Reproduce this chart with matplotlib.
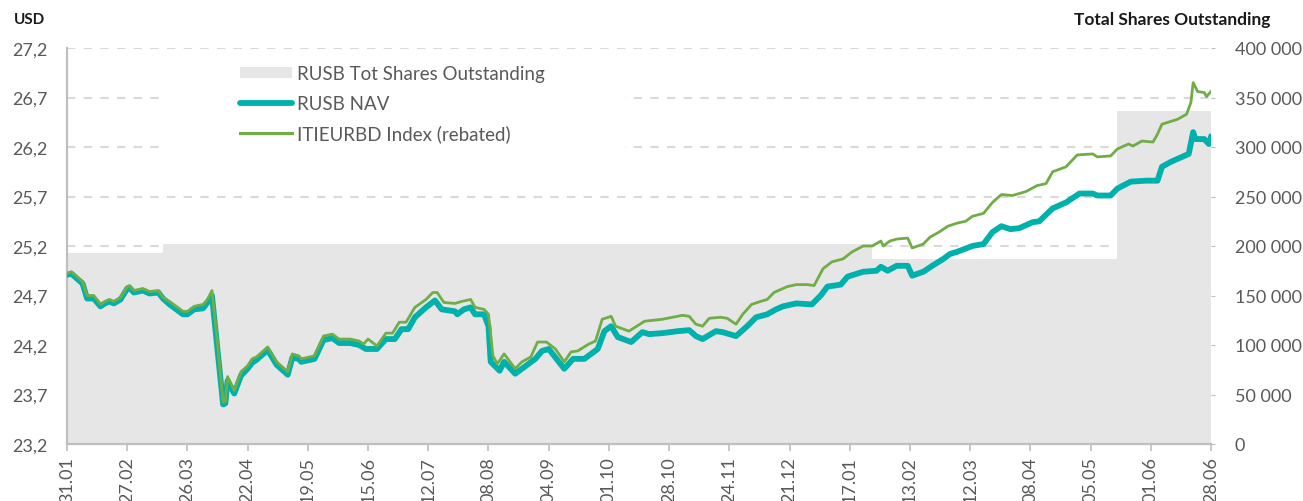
import matplotlib
matplotlib.use("Agg")
import matplotlib.pyplot as plt
from matplotlib.patches import Patch, Rectangle
from matplotlib.lines import Line2D
from matplotlib.ticker import FuncFormatter

plt.rcParams['font.family'] = ['Lato', 'DejaVu Sans']

# x axis: days since 31.01, labels every 27 days
tick_labels = ['31.01', '27.02', '26.03', '22.04', '19.05', '15.06', '12.07', '08.08',
               '04.09', '01.10', '28.10', '24.11', '21.12', '17.01', '13.02', '12.03',
               '08.04', '05.05', '01.06', '28.06']
tick_step = 27

# RUSB total shares outstanding (step series)
share_days = [0, 43, 361, 471, 513]
shares = [193000, 202000, 187000, 336000, 336000]

# ITIEURBD Index (rebated)
idx_days = [0, 2, 7, 9, 12, 15, 17, 19, 21, 24, 27, 28, 30, 34, 37, 41, 43, 46, 49, 52,
            54, 57, 61, 63, 65, 67, 70, 71, 72, 75, 78, 81, 83, 85, 90, 94, 99, 101, 104, 105,
            111, 115, 119, 122, 127, 131, 133, 135, 139, 143, 146, 149, 152, 156, 161, 164,
            166, 169, 174, 177, 181, 183, 187, 189, 191, 193, 196, 201, 204, 208, 211, 215,
            219, 223, 226, 229, 234, 237, 240, 244, 246, 252, 259, 267, 276, 279, 282, 285,
            288, 293, 296, 300, 303, 307, 311, 314, 317, 323, 327, 332, 335, 339, 343, 348,
            352, 357, 361, 365, 366, 369, 372, 377, 379, 384, 387, 391, 395, 399, 403, 406,
            411, 415, 419, 424, 430, 435, 439, 442, 448, 453, 460, 462, 468, 471, 476, 478,
            482, 487, 489, 491, 498, 502, 504, 505, 507, 510, 511, 513]
idx_vals = [24.92, 24.94, 24.84, 24.70, 24.70, 24.61, 24.64, 24.66, 24.64, 24.68, 24.79, 24.80,
            24.75, 24.77, 24.74, 24.75, 24.68, 24.64, 24.59, 24.54, 24.54, 24.59, 24.61, 24.66,
            24.75, 24.33, 23.62, 23.63, 23.88, 23.74, 23.93, 23.99, 24.06, 24.08, 24.18, 24.03,
            23.93, 24.11, 24.09, 24.06, 24.09, 24.29, 24.31, 24.26, 24.26, 24.24, 24.21, 24.26,
            24.19, 24.32, 24.32, 24.43, 24.43, 24.58, 24.66, 24.73, 24.73, 24.63, 24.62, 24.64,
            24.66, 24.58, 24.56, 24.51, 24.09, 24.01, 24.11, 23.96, 24.03, 24.08, 24.23, 24.23,
            24.16, 24.03, 24.13, 24.14, 24.21, 24.24, 24.46, 24.49, 24.39, 24.34, 24.44, 24.46,
            24.50, 24.49, 24.41, 24.39, 24.47, 24.48, 24.47, 24.41, 24.51, 24.61, 24.64, 24.66,
            24.73, 24.79, 24.81, 24.81, 24.80, 24.97, 25.04, 25.07, 25.14, 25.20, 25.20, 25.25,
            25.20, 25.25, 25.27, 25.28, 25.18, 25.22, 25.29, 25.34, 25.40, 25.43, 25.45, 25.50,
            25.53, 25.64, 25.72, 25.71, 25.75, 25.81, 25.83, 25.95, 26.00, 26.12, 26.13, 26.10,
            26.11, 26.18, 26.23, 26.21, 26.26, 26.25, 26.33, 26.43, 26.48, 26.53, 26.65, 26.85,
            26.76, 26.75, 26.71, 26.76]

# RUSB NAV
nav_days = [0, 2, 7, 9, 12, 15, 17, 19, 21, 24, 27, 28, 30, 34, 37, 41, 43, 46, 49, 52,
            54, 57, 61, 63, 65, 67, 70, 71, 72, 75, 78, 81, 83, 85, 90, 94, 99, 101, 104, 105,
            111, 115, 119, 122, 127, 131, 134, 139, 143, 147, 150, 153, 156, 161, 165, 168,
            174, 175, 178, 181, 183, 187, 189, 190, 194, 196, 201, 204, 210, 213, 216, 223,
            227, 232, 238, 241, 244, 247, 253, 258, 261, 267, 274, 279, 282, 285, 291, 294,
            300, 305, 309, 314, 318, 321, 327, 334, 338, 341, 347, 350, 357, 363, 365, 368,
            372, 377, 379, 384, 388, 393, 396, 399, 406, 411, 415, 419, 423, 427, 433, 436,
            442, 448, 454, 460, 462, 468, 471, 477, 484, 489, 491, 495, 499, 503, 505, 506,
            510, 512, 513]
nav_vals = [24.91, 24.92, 24.82, 24.67, 24.67, 24.59, 24.62, 24.64, 24.62, 24.66, 24.77, 24.78,
            24.73, 24.75, 24.72, 24.73, 24.67, 24.61, 24.56, 24.51, 24.51, 24.56, 24.57, 24.63,
            24.70, 24.26, 23.60, 23.61, 23.84, 23.71, 23.89, 23.96, 24.02, 24.05, 24.15, 24.00,
            23.90, 24.07, 24.06, 24.03, 24.06, 24.25, 24.27, 24.22, 24.22, 24.20, 24.16, 24.16,
            24.26, 24.26, 24.36, 24.36, 24.48, 24.58, 24.65, 24.56, 24.54, 24.51, 24.56, 24.58,
            24.51, 24.51, 24.39, 24.03, 23.94, 24.03, 23.91, 23.96, 24.06, 24.14, 24.16, 23.96,
            24.06, 24.06, 24.16, 24.34, 24.39, 24.28, 24.23, 24.33, 24.31, 24.32, 24.34, 24.35,
            24.29, 24.26, 24.34, 24.33, 24.29, 24.39, 24.48, 24.51, 24.56, 24.59, 24.62, 24.61,
            24.70, 24.79, 24.81, 24.89, 24.94, 24.95, 24.99, 24.95, 25.00, 25.00, 24.90, 24.94,
            25.00, 25.07, 25.12, 25.14, 25.20, 25.22, 25.34, 25.40, 25.37, 25.38, 25.44, 25.45,
            25.58, 25.64, 25.73, 25.73, 25.71, 25.71, 25.78, 25.85, 25.86, 25.86, 26.00, 26.05,
            26.09, 26.13, 26.35, 26.28, 26.28, 26.23, 26.30]

grey_txt = '#595959'
axis_col = '#bfbfbf'
area_col = '#e6e6e6'
nav_col = '#00b0ab'
idx_col = '#70ad47'

fig = plt.figure(figsize=(13.03, 5.02), dpi=100)
ax = fig.add_axes([67 / 1303, 57 / 502, 1144 / 1303, 396 / 502])
ax2 = ax.twinx()

# shares area on the base axes (drawn under the lines)
ax.fill_between(share_days, shares, step='post', color=area_col, lw=0, zorder=1)
ax.set_xlim(0, 513)
ax.set_ylim(0, 400000)
ax.set_yticks(range(0, 400001, 50000))
ax.yaxis.tick_right()
ax.yaxis.grid(True, ls=(0, (4, 4)), color='#d9d9d9', lw=1.5)
ax.set_axisbelow(True)
ax.yaxis.set_major_formatter(FuncFormatter(lambda v, p: f'{int(v):,}'.replace(',', ' ')))
ax.tick_params(axis='y', left=False, right=True, labelleft=False, labelright=True,
               length=3, color=axis_col, labelcolor=grey_txt, labelsize=13, pad=14)
ax.set_xticks([i * tick_step for i in range(len(tick_labels))])
ax.set_xticklabels(tick_labels, rotation=90)
ax.tick_params(axis='x', length=5, width=1.2, color=axis_col, labelcolor=grey_txt,
               labelsize=13, pad=4)
for s in ['top', 'right']:
    ax.spines[s].set_visible(False)
for s in ['left', 'bottom']:
    ax.spines[s].set_color(axis_col)
    ax.spines[s].set_linewidth(1.6)

# white box behind the legend
ax.add_patch(Rectangle((0.083, 0.72), 0.405, 0.257, transform=ax.transAxes,
                       facecolor='white', edgecolor='none', zorder=1.5))

# price lines
ax2.plot(nav_days, nav_vals, color=nav_col, lw=4.2, solid_joinstyle='round', zorder=3)
ax2.plot(idx_days, idx_vals, color=idx_col, lw=2.0, solid_joinstyle='round', zorder=4)
ax2.set_ylim(23.2, 27.2)
ax2.set_yticks([23.2 + 0.5 * i for i in range(9)])
ax2.yaxis.set_major_formatter(FuncFormatter(lambda v, p: f'{v:.1f}'.replace('.', ',')))
ax2.tick_params(axis='y', left=True, right=False, labelleft=True, labelright=False,
                length=0, labelcolor=grey_txt, labelsize=13, pad=14)
for s in ax2.spines.values():
    s.set_visible(False)

handles = [Patch(facecolor=area_col, edgecolor='none'),
           Line2D([], [], color=nav_col, lw=4.2, solid_capstyle='round'),
           Line2D([], [], color=idx_col, lw=2.2)]
labels = ['RUSB Tot Shares Outstanding', 'RUSB NAV', 'ITIEURBD Index (rebated)']
leg = ax2.legend(handles, labels, loc='upper left', bbox_to_anchor=(0.151, 0.956),
                 frameon=False, fontsize=13.5, handlelength=2.8, handleheight=0.55,
                 handletextpad=0.27, labelspacing=0.66, borderpad=0, borderaxespad=0)
for t in leg.get_texts():
    t.set_color(grey_txt)

fig.text(14 / 1303, 1 - 20 / 502, 'USD', weight='bold', size=11, va='center',
         color='#1a1a1a')
fig.text(1270 / 1303, 1 - 20 / 502, 'Total Shares Outstanding', weight='bold', size=12.5,
         va='center', ha='right', color='#1a1a1a')

fig.savefig('out.png', dpi=100)
